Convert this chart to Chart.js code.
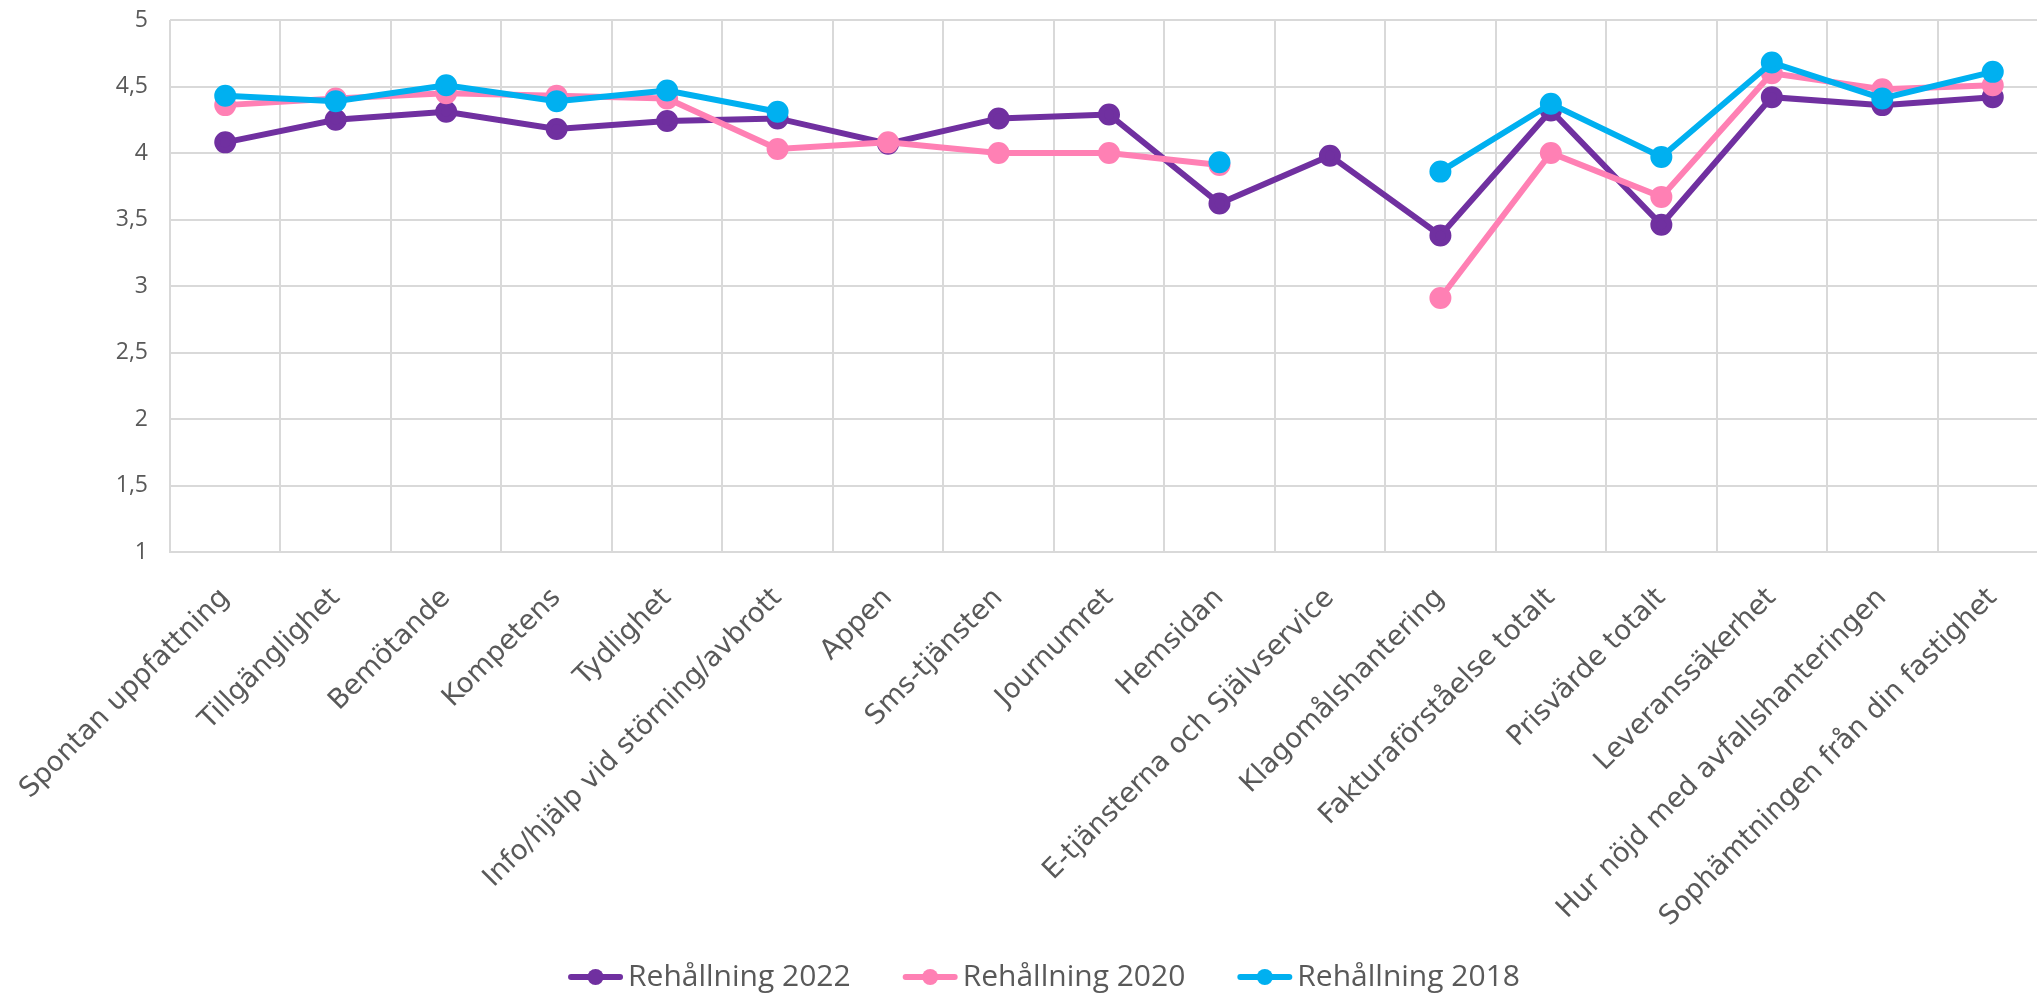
<!DOCTYPE html>
<html>
<head>
<meta charset="utf-8">
<script src="https://cdn.jsdelivr.net/npm/chart.js@4/dist/chart.umd.min.js"></script>
<style>
  html, body { margin: 0; padding: 0; background: #fff; overflow: hidden; }
  #wrap { position: relative; width: 2062px; height: 998px; }
</style>
</head>
<body>
<div id="wrap"><canvas id="grafica"></canvas></div>
<script>
// Kategorier och värden
const kategorier = [
    'Spontan uppfattning', 'Tillgänglighet', 'Bemötande', 'Kompetens', 'Tydlighet',
    'Info/hjälp vid störning/avbrott', 'Appen', 'Sms-tjänsten', 'Journumret', 'Hemsidan',
    'E-tjänsterna och Självservice', 'Klagomålshantering', 'Fakturaförståelse totalt',
    'Prisvärde totalt', 'Leveranssäkerhet', 'Hur nöjd med avfallshanteringen',
    'Sophämtningen från din fastighet'
];
const serieNamn = ['Rehållning 2022', 'Rehållning 2020', 'Rehållning 2018'];
const varden2022 = [4.08, 4.25, 4.31, 4.18, 4.24, 4.26, 4.07, 4.26, 4.29, 3.62, 3.98, 3.38, 4.32, 3.46, 4.42, 4.36, 4.42];
const varden2020 = [4.36, 4.41, 4.45, 4.43, 4.41, 4.03, 4.08, 4.00, 4.00, 3.91, null, 2.91, 4.00, 3.67, 4.60, 4.48, 4.51];
const varden2018 = [4.43, 4.39, 4.51, 4.39, 4.47, 4.31, null, null, null, 3.93, null, 3.86, 4.37, 3.97, 4.68, 4.41, 4.61];
const yTicks = [1, 1.5, 2, 2.5, 3, 3.5, 4, 4.5, 5];

const farger = ['#7030A0', '#FF80B4', '#00B0F0'];
const textFarg = '#595959';
const legendFont = "30px 'Open Sans', sans-serif";

// Egen förklaring i Excel-stil: linje med prick, text tätt intill
const egenLegend = {
    id: 'egenLegend',
    afterDraw(chart) {
        const ctx = chart.ctx;
        const linje = 55, luft = 5, mellanrum = 52;
        const cy = chart.height - 21;
        ctx.save();
        ctx.font = legendFont;
        const bredder = chart.data.datasets.map(ds => ctx.measureText(ds.label).width);
        const total = bredder.reduce((a, b) => a + b + linje + luft, 0) + mellanrum * (bredder.length - 1);
        let x = 1044 - total / 2;
        chart.data.datasets.forEach((ds, i) => {
            ctx.strokeStyle = ds.borderColor;
            ctx.fillStyle = ds.borderColor;
            ctx.lineWidth = 6;
            ctx.lineCap = 'round';
            ctx.beginPath();
            ctx.moveTo(x + 3, cy);
            ctx.lineTo(x + linje - 3, cy);
            ctx.stroke();
            ctx.beginPath();
            ctx.arc(x + linje / 2, cy, 8, 0, Math.PI * 2);
            ctx.fill();
            ctx.fillStyle = textFarg;
            ctx.textBaseline = 'middle';
            ctx.fillText(ds.label, x + linje + luft, cy);
            x += linje + luft + bredder[i] + mellanrum;
        });
        ctx.restore();
    }
};

function serie(etikett, data, farg, ordning) {
    return {
        label: etikett,
        data: data,
        borderColor: farg,
        backgroundColor: farg,
        pointBackgroundColor: farg,
        pointBorderColor: farg,
        borderWidth: 6,
        pointRadius: 8,
        pointHoverRadius: 8,
        tension: 0,
        fill: false,
        spanGaps: false,
        order: ordning
    };
}

new Chart(document.getElementById('grafica').getContext('2d'), {
    type: 'line',
    data: {
        labels: kategorier,
        datasets: [
            serie(serieNamn[0], varden2022, farger[0], 2),
            serie(serieNamn[1], varden2020, farger[1], 1),
            serie(serieNamn[2], varden2018, farger[2], 0)
        ]
    },
    options: {
        responsive: true,
        maintainAspectRatio: false,
        animation: false,
        layout: { padding: { top: 20, right: 8, bottom: 0, left: 0 } },
        plugins: {
            tooltip: { enabled: false },
            legend: { display: false }
        },
        scales: {
            x: {
                offset: true,
                afterFit(scale) {
                    scale.height = 446;
                    scale.paddingLeft = 0;
                    scale.paddingRight = 0;
                },
                grid: { offset: true, color: '#d9d9d9', lineWidth: 2, drawTicks: false },
                border: { color: '#d9d9d9', width: 2 },
                ticks: {
                    autoSkip: false,
                    minRotation: 45,
                    maxRotation: 45,
                    padding: 30,
                    color: textFarg,
                    font: { family: "'DejaVu Sans', Verdana, sans-serif", size: 27.5 }
                }
            },
            y: {
                min: 1,
                max: 5,
                afterFit(scale) {
                    scale.width = 170;
                    scale.paddingTop = 0;
                    scale.paddingBottom = 0;
                },
                afterBuildTicks(scale) { scale.ticks = yTicks.map(v => ({ value: v })); },
                grid: { color: '#d9d9d9', lineWidth: 2, drawTicks: false },
                border: { display: false },
                ticks: {
                    padding: 22,
                    color: textFarg,
                    font: { family: "'Open Sans', sans-serif", size: 23 },
                    callback: v => String(v).replace('.', ',')
                }
            }
        }
    },
    plugins: [egenLegend]
});
</script>
</body>
</html>
